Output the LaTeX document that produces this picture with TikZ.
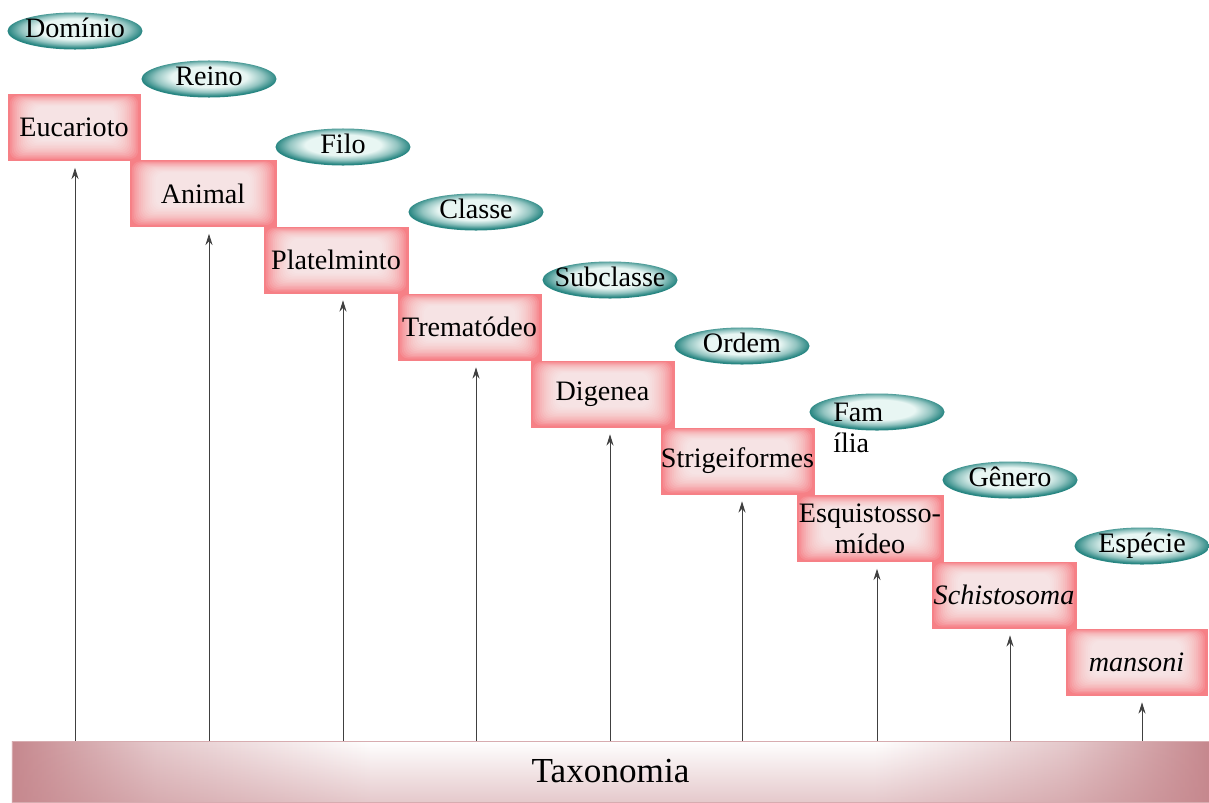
\documentclass[tikz,border=0pt]{standalone}
\usepackage{fontspec}
\setmainfont{Liberation Serif}
\newfontfamily\txfont{Liberation Serif}
\usetikzlibrary{shapes.geometric,arrows.meta,fadings}

% ------------------------------------------------ taxonomy theme colors
\definecolor{tx_pink}{RGB}{246,128,134}   %#F68086
\definecolor{tx_teal}{RGB}{40,134,130}    %#288682
\definecolor{tx_tealL}{RGB}{232,246,243}  %#E8F6F3
\definecolor{tx_bar}{RGB}{198,136,142}    %#C6888E

\pgfdeclareradialshading{rankglow}{\pgfpoint{0bp}{4bp}}{color(0bp)=(tx_tealL); color(14bp)=(tx_tealL); color(20bp)=(tx_tealL!55!tx_teal); color(25bp)=(tx_teal); color(50bp)=(tx_teal)}
\pgfdeclarehorizontalshading{taxbar}{100bp}{color(0bp)=(tx_bar); color(25bp)=(tx_bar); color(31bp)=(tx_bar!45!white); color(40bp)=(white); color(61bp)=(white); color(69bp)=(tx_bar!45!white); color(75bp)=(tx_bar); color(100bp)=(tx_bar)}

\begin{document}
\begin{tikzpicture}[x=0.025cm,y=-0.025cm,
  rank/.style={ellipse,shade,shading=rankglow,inner sep=0pt,minimum width=3.375cm,minimum height=0.925cm,
    font=\txfont\fontsize{20}{22}\selectfont,text height=13pt,text depth=4pt},
  taxon/.style={rectangle,fill=tx_pink,draw=tx_pink,line width=0.4pt,inner sep=0pt,
    minimum width=3.6cm,minimum height=1.65cm,font=\txfont\fontsize{20}{22}\selectfont,align=center,
    path picture={\foreach \i in {1,...,14}
      \fill[white,fill opacity=0.11,rounded corners=6pt]
        ([shift={(\i*1.3pt,\i*1pt)}]path picture bounding box.south west) rectangle
        ([shift={(-\i*1.3pt,-\i*0.6pt)}]path picture bounding box.north east);}},
  up/.style={line width=0.6pt,color=black!75,-{Stealth[length=8pt,width=5pt]},shorten >=5pt}]

\useasboundingbox (0,0) rectangle (1209,802);

% ------------------------------------------------ taxonomy bar
\node[shade,shading=taxbar,draw=tx_bar!70,line width=0.4pt,minimum width=29.925cm,minimum height=1.525cm,
  inner sep=0pt,font=\txfont\fontsize{25}{28}\selectfont,
  postaction={fill=tx_bar,fill opacity=0.45,path fading=north}] (tax) at (610.5,771.5) {Taxonomia};

% ------------------------------------------------ ranks
\node[rank] (dom) at (75,31)   {\makebox[0pt]{Domínio}};
\node[rank] (rei) at (209,79)  {\makebox[0pt]{Reino}};
\node[rank] (fil) at (343,147) {\makebox[0pt]{Filo}};
\node[rank] (cla) at (476,212) {\makebox[0pt]{Classe}};
\node[rank] (sub) at (610,280) {\makebox[0pt]{Subclasse}};
\node[rank] (ord) at (742,346) {\makebox[0pt]{Ordem}};
\node[rank] (fam) at (877,412) {\makebox[0pt]{}};
\node[rank] (gen) at (1010,480) {\makebox[0pt]{Gênero}};
\node[rank] (esp) at (1142,546) {\makebox[0pt]{Espécie}};

\node[anchor=north west,align=left,inner sep=0pt,font=\txfont\fontsize{20}{22}\selectfont] (famtxt) at (833,403) {Fam\\ília};

% ------------------------------------------------ taxa
\node[taxon,minimum width=3.3cm]   (euc) at (74,127.5)   {Eucarioto};
\node[taxon,minimum width=3.65cm]  (ani) at (203,193.5)  {Animal};
\node[taxon]                       (pla) at (336,260)    {Platelminto};
\node[taxon,minimum width=3.575cm] (tre) at (469.5,327)  {Trematódeo};
\node[taxon,minimum width=3.575cm] (dig) at (602.5,394)  {Digenea};
\node[taxon,minimum width=3.825cm] (str) at (737.5,461)  {Strigeiformes};
\node[taxon,minimum width=3.65cm]  (esq) at (870,528.5)  {Esquistosso-\\mídeo};
\node[taxon]                       (sch) at (1004,595)   {\textit{Schistosoma}};
\node[taxon,minimum width=3.525cm] (man) at (1136.5,662) {\textit{mansoni}};

% ------------------------------------------------ arrows
\draw[up] (tax.north -| dom) -- (euc.south -| dom);
\draw[up] (tax.north -| rei) -- (ani.south -| rei);
\draw[up] (tax.north -| fil) -- (pla.south -| fil);
\draw[up] (tax.north -| cla) -- (tre.south -| cla);
\draw[up] (tax.north -| sub) -- (dig.south -| sub);
\draw[up] (tax.north -| ord) -- (str.south -| ord);
\draw[up] (tax.north -| fam) -- (esq.south -| fam);
\draw[up] (tax.north -| gen) -- (sch.south -| gen);
\draw[up] (tax.north -| esp) -- (man.south -| esp);

\end{tikzpicture}
\end{document}
